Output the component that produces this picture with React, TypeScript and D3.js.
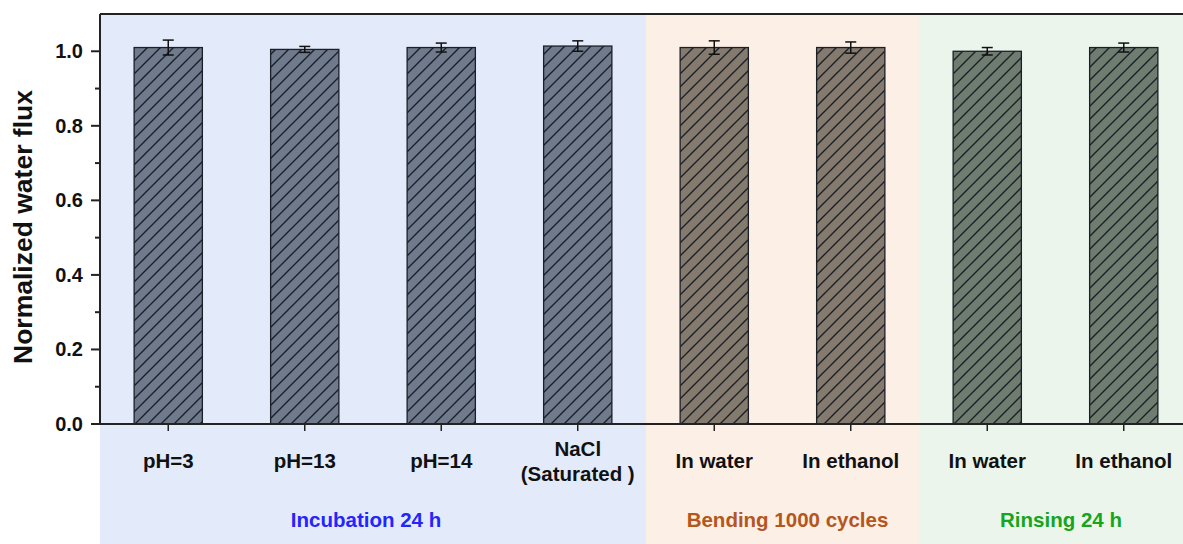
import React from "react";
import * as d3 from "d3";

const categories = ["pH=3", "pH=13", "pH=14", "NaCl\n(Saturated )", "In water", "In ethanol", "In water ", "In ethanol "];
const values = [1.01, 1.005, 1.01, 1.014, 1.01, 1.01, 1.0, 1.01];
const errors = [0.02, 0.008, 0.012, 0.014, 0.018, 0.015, 0.01, 0.012];
const groupOf = [0, 0, 0, 0, 1, 1, 2, 2];
const groups = ["Incubation 24 h", "Bending 1000 cycles", "Rinsing 24 h"];
const groupBg = ["#e3ebfb", "#fcefe6", "#ebf5ec"];
const groupText = ["#2424ff", "#b5561c", "#16a51c"];
const barFill = ["#6f7a8c", "#857a6e", "#6f7c70"];
const yTicks = [0, 0.2, 0.4, 0.6, 0.8, 1.0];

export default function App() {
  const W = 1183, H = 544;
  const left = 100, top = 14, bottom = 424;
  const right = 1192;
  const x = d3.scaleBand<string>().domain(categories).range([left, right]).paddingInner(0.5).paddingOuter(0.25);
  const y = d3.scaleLinear().domain([0, 1.1]).range([bottom, top]);
  const step = x.step();
  const bandStart = (i: number) => left + step * i;
  const groupRanges = groups.map((_, g) => {
    const idx = categories.map((_, i) => i).filter((i) => groupOf[i] === g);
    return [bandStart(idx[0]), bandStart(idx[idx.length - 1]) + step];
  });
  const labelShift = [-7, 5, 10];
  const minor = d3.range(0.1, 1.1, 0.2);
  const font = "Liberation Sans, Arial, sans-serif";
  return (
    <svg width={W} height={H} style={{ position: "absolute", left: 0, top: 0, background: "#fff" }} fontFamily={font}>
      <defs>
        {barFill.map((c, g) => (
          <pattern key={g} id={`hatch${g}`} patternUnits="userSpaceOnUse" width={13} height={13}>
            <rect width={13} height={13} fill={c} />
            <path d="M-1,1 L1,-1 M0,13 L13,0 M12,14 L14,12" stroke="#1a1f28" strokeWidth={1.4} />
          </pattern>
        ))}
      </defs>
      {groupRanges.map(([a, b], g) => (
        <rect key={g} x={a} y={top} width={b - a} height={H - top} fill={groupBg[g]} />
      ))}
      {categories.map((c, i) => {
        const cx = x(c)! + x.bandwidth() / 2;
        const g = groupOf[i];
        return (
          <g key={i}>
            <rect x={x(c)} y={y(values[i])} width={x.bandwidth()} height={bottom - y(values[i])} fill={`url(#hatch${g})`} stroke="#1a1f28" strokeWidth={1.3} />
            <line x1={cx} x2={cx} y1={y(values[i] + errors[i])} y2={y(values[i] - errors[i])} stroke="#111" strokeWidth={1.5} />
            <line x1={cx - 5.5} x2={cx + 5.5} y1={y(values[i] + errors[i])} y2={y(values[i] + errors[i])} stroke="#111" strokeWidth={1.5} />
            <line x1={cx - 5.5} x2={cx + 5.5} y1={y(values[i] - errors[i])} y2={y(values[i] - errors[i])} stroke="#111" strokeWidth={1.5} />
            <line x1={cx} x2={cx} y1={bottom} y2={bottom + 7} stroke="#222" strokeWidth={1.5} />
            {c.trim().split("\n").map((t, k, arr) => (
              <text key={k} x={cx} y={arr.length > 1 ? 456 + k * 25 : 468} textAnchor="middle" fontSize={20.5} fontWeight="bold" fill="#111">{t}</text>
            ))}
          </g>
        );
      })}
      {groups.map((gname, g) => (
        <text key={g} x={(groupRanges[g][0] + Math.min(groupRanges[g][1], W)) / 2 + labelShift[g]} y={527} textAnchor="middle" fontSize={20.5} fontWeight="bold" fill={groupText[g]}>{gname}</text>
      ))}
      <line x1={left} x2={W} y1={top} y2={top} stroke="#222" strokeWidth={2} />
      <line x1={left} x2={W} y1={bottom} y2={bottom} stroke="#222" strokeWidth={2} />
      <line x1={left} x2={left} y1={top} y2={bottom} stroke="#222" strokeWidth={2} />
      {yTicks.map((t) => (
        <g key={t}>
          <line x1={left - 9} x2={left} y1={y(t)} y2={y(t)} stroke="#222" strokeWidth={2} />
          <text x={left - 17} y={y(t) + 7} textAnchor="end" fontSize={20} fontWeight="bold" fill="#111">{t.toFixed(1)}</text>
        </g>
      ))}
      {minor.map((t) => (
        <line key={t} x1={left - 5} x2={left} y1={y(t)} y2={y(t)} stroke="#222" strokeWidth={2} />
      ))}
      <text transform={`translate(32, ${227}) rotate(-90)`} textAnchor="middle" fontSize={26.5} fontWeight="bold" fill="#111">Normalized water flux</text>
    </svg>
  );
}
